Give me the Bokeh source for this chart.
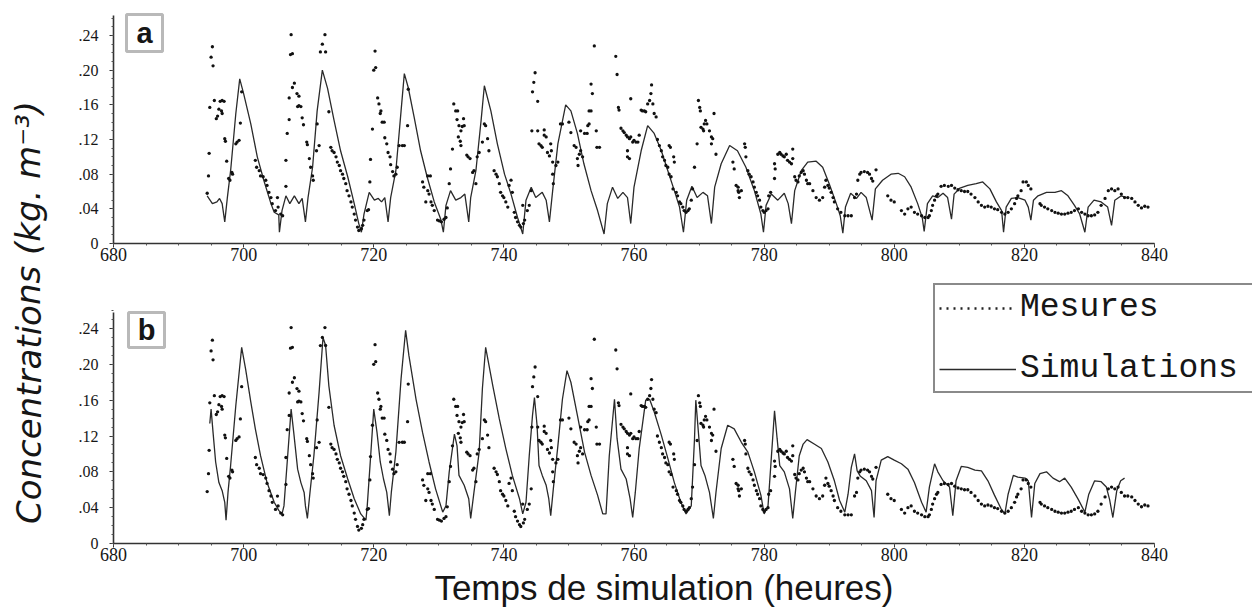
import numpy as np
from bokeh.plotting import figure
from bokeh.models import Range1d, Label, Legend, LegendItem, FixedTicker, CustomJSTickFormatter, BoxAnnotation
from bokeh.layouts import row, column
from bokeh.embed import file_html
from bokeh.resources import INLINE

# ---------------- data ----------------
x_ticks = [680, 700, 720, 740, 760, 780, 800, 820, 840]
y_ticks = [0, 0.04, 0.08, 0.12, 0.16, 0.20, 0.24]
y_tick_labels = ["0", ".04", ".08", ".12", ".16", ".20", ".24"]

# measured concentrations (same in both panels)
mes_h = [695.2, 695.0, 695.3, 694.8, 695.5, 696.0, 695.8, 696.4, 696.7, 697.0, 696.2, 696.6, 696.7, 694.7, 694.6, 694.4,
         697.1, 697.2, 697.4, 697.7, 697.9, 698.2, 698.3, 698.8, 699.0, 699.3, 699.5, 699.7, 701.8, 702.0, 702.4, 702.6,
         703.0, 703.4, 703.6, 703.9, 704.2, 704.4, 704.9, 705.2, 705.3, 705.7, 706.0, 707.3, 707.2, 707.5, 706.7, 707.0,
         706.5, 707.0, 707.5, 707.8, 708.2, 708.5, 708.3, 708.5, 708.8, 709.0, 709.2, 706.5, 709.7, 709.8, 710.1, 710.3,
         710.6, 710.7, 712.5, 712.1, 711.8, 712.6, 711.3, 711.2, 711.6, 713.1, 713.4, 713.6, 713.9, 714.2, 714.4, 714.7,
         714.9, 715.2, 715.4, 715.7, 715.9, 716.2, 716.5, 716.7, 717.0, 717.2, 717.5, 717.7, 718.1, 718.3, 718.5, 719.0,
         719.2, 720.2, 720.0, 720.3, 720.6, 720.8, 721.1, 721.0, 721.3, 721.6, 719.8, 719.5, 719.4, 721.7, 722.0, 722.2,
         722.5, 722.6, 722.9, 723.1, 723.4, 723.6, 723.9, 724.4, 724.7, 725.2, 725.3, 727.5, 727.7, 728.3, 728.5, 728.3,
         728.7, 728.0, 728.8, 729.0, 729.3, 729.8, 730.1, 730.4, 730.8, 731.1, 731.3, 731.6, 731.8, 732.1, 732.3, 732.6,
         732.9, 732.8, 733.1, 733.4, 733.8, 733.6, 733.9, 733.0, 733.3, 733.4, 734.3, 734.5, 734.8, 735.2, 735.4, 735.7,
         735.9, 736.2, 736.7, 737.0, 737.2, 737.5, 737.7,
         738.5, 738.8, 739.0, 739.3, 739.5, 739.8, 740.0, 740.3, 740.6, 740.8, 741.1, 741.3, 741.6, 741.8, 742.1, 742.4,
         742.6, 743.0, 743.2, 743.6, 742.9, 743.9, 744.2, 744.8, 744.6, 744.4, 745.2, 744.3, 745.2, 746.2, 745.4, 745.7,
         745.9, 746.2, 746.5, 746.7, 747.0, 747.2, 747.3, 747.5, 747.5, 747.6, 748.0, 748.3, 748.7, 749.0, 750.0, 750.3,
         750.8, 751.1, 751.3, 751.6, 751.8, 752.4, 752.8, 752.9, 753.1, 753.4, 753.4, 753.6, 753.9, 754.2, 754.3, 754.7,
         753.1, 751.8, 752.1, 751.4, 757.2, 757.4, 759.5, 757.6, 757.7, 758.0, 758.3, 758.5, 758.8, 759.0, 759.3, 759.5,
         759.8, 760.0, 760.3, 760.6, 760.8, 759.0, 759.3, 759.0, 761.1, 761.3, 761.6, 761.8, 762.1, 762.4, 762.6, 762.7,
         762.9, 763.1, 763.4, 763.6, 763.9, 764.2, 764.4, 764.7, 764.9, 765.2, 765.4, 765.7, 765.4, 765.6, 766.1, 766.2,
         766.0, 766.5, 766.7, 767.0, 767.2, 767.5, 767.7, 768.0, 768.3, 768.5, 768.8, 769.0, 769.3, 769.7, 769.9, 770.1,
         770.2, 770.3, 770.6, 770.7, 770.8, 771.0, 771.2, 771.6, 771.9, 772.1, 771.9, 772.3, 772.6, 775.2, 775.4, 775.7,
         776.0, 776.1, 776.2, 776.0, 776.5, 777.0, 777.1, 777.2, 777.5, 777.7, 778.0, 778.3, 778.5, 778.8, 779.0, 779.3,
         779.5, 779.8, 780.0, 780.3, 780.6, 780.7, 781.0, 781.6, 781.7, 781.6, 782.1, 782.4, 782.6, 782.9, 783.1, 783.4,
         783.6, 783.9, 784.2, 784.4, 784.4, 784.7, 784.9, 785.2, 785.4, 785.7, 786.0, 786.2, 786.5, 786.7,
         787.0, 787.5, 788.0, 788.5, 789.0, 789.3, 789.5, 789.8, 790.0, 790.3, 790.6, 790.8, 791.3, 791.8, 792.4, 792.9,
         793.4, 793.9, 794.2, 794.4, 794.7, 794.9, 795.4, 795.9, 796.2, 796.5, 796.7, 797.2, 799.0, 799.5, 800.0, 801.1,
         801.6, 802.1, 802.6, 803.1, 803.6, 804.2, 804.7, 805.2, 805.4, 805.7, 805.9, 806.2, 806.5, 806.7, 807.2, 807.7,
         808.3, 808.8, 809.3, 809.8, 810.3, 810.8, 811.3, 811.8, 812.4, 812.9, 813.4, 813.9, 814.4, 814.9, 815.4, 815.9,
         816.5, 817.0, 817.5, 818.0, 818.5, 818.8, 819.0, 819.5, 819.8, 820.3, 820.6, 821.0, 822.4, 822.6, 823.1, 823.6,
         824.2, 824.7, 825.2, 825.7, 826.2, 826.7, 827.2, 827.7, 828.3, 828.8, 829.3, 829.8, 830.3, 830.8, 831.3, 831.8,
         832.4, 832.9, 833.4, 833.9, 834.4, 834.9, 835.4, 835.9, 836.5, 837.0, 837.5, 838.0, 838.5, 839.0]
mes_c = [.227, .215, .205, .157, .165, .147, .144, .164, .165, .164, .155, .153, .150, .104, .078, .058,
         .121, .118, .095, .075, .073, .082, .080, .115, .117, .119, .139, .175, .096, .088, .084, .078,
         .077, .073, .067, .059, .053, .046, .038, .053, .042, .034, .032, .241, .218, .219, .127, .143,
         .096, .168, .180, .185, .173, .170, .158, .159, .158, .145, .137, .066, .117, .114, .098, .088,
         .078, .073, .241, .230, .221, .221, .138, .107, .113, .152, .111, .107, .105, .100, .094, .090,
         .084, .080, .075, .069, .061, .055, .048, .042, .034, .027, .019, .015, .017, .021, .027, .038,
         .039, .222, .200, .203, .168, .161, .153, .150, .140, .140, .132, .097, .071, .122, .115, .105,
         .100, .091, .083, .078, .080, .088, .113, .113, .113, .136, .178, .071, .065, .061, .057, .078,
         .078, .048, .048, .044, .038, .027, .026, .025, .028, .030, .041, .069, .086, .109, .161, .153,
         .153, .143, .136, .130, .144, .135, .136, .123, .118, .113, .102, .100, .098, .082, .084, .069,
         .100, .105, .117, .138, .136, .121, .107,
         .084, .080, .077, .069, .059, .055, .053, .048, .042, .067, .073, .059, .036, .030, .025, .021,
         .019, .023, .027, .038, .044, .044, .061, .197, .186, .175, .164, .130, .130, .131, .115, .113,
         .111, .125, .123, .105, .101, .115, .107, .094, .080, .069, .090, .094, .138, .138, .140, .128,
         .113, .111, .098, .103, .130, .127, .127, .136, .153, .153, .184, .173, .228, .130, .111, .111,
         .138, .107, .100, .090, .216, .195, .167, .157, .154, .133, .130, .128, .125, .123, .121, .123,
         .117, .119, .117, .117, .125, .107, .098, .100, .154, .153, .153, .152, .161, .165, .173, .183,
         .161, .150, .146, .120, .113, .107, .100, .096, .090, .088, .080, .077, .113, .111, .100, .094,
         .063, .059, .055, .048, .046, .042, .038, .036, .038, .040, .050, .063, .088, .115, .165, .157,
         .153, .134, .132, .130, .138, .142, .138, .130, .123, .121, .115, .150, .103, .094, .086, .067,
         .065, .059, .053, .061, .061, .115, .111, .100, .084, .080, .077, .071, .065, .059, .055, .050,
         .042, .038, .036, .038, .040, .055, .059, .092, .086, .075, .103, .105, .103, .101, .100, .103,
         .096, .094, .092, .098, .109, .077, .073, .071, .078, .082, .084, .080, .073, .069,
         .069, .061, .053, .050, .053, .065, .073, .067, .064, .059, .053, .048, .040, .036, .032, .032,
         .032, .053, .057, .073, .080, .082, .083, .082, .080, .075, .072, .085, .055, .050, .048, .038,
         .034, .040, .042, .036, .034, .032, .030, .030, .032, .038, .044, .050, .055, .057, .066, .067,
         .066, .067, .064, .062, .061, .060, .060, .057, .053, .048, .044, .042, .043, .042, .040, .039,
         .036, .034, .036, .040, .046, .052, .055, .061, .071, .071, .067, .063, .046, .044, .042, .040,
         .038, .036, .035, .034, .034, .035, .036, .038, .040, .036, .034, .032, .032, .033, .036, .044,
         .052, .061, .063, .061, .063, .057, .053, .053, .052, .048, .044, .041, .043, .042]

# simulation, panel a
sim_a_h = [694.4, 695.2, 695.9, 696.3, 696.7, 697.1, 697.5, 698.0, 698.8, 699.4, 700.0, 701.1, 702.1, 703.1, 704.2, 704.7,
           705.4, 705.5, 705.9, 706.5, 707.1, 707.8, 708.5, 709.0, 709.5, 709.9, 710.6, 711.3, 712.1, 712.9, 713.9, 714.9,
           716.0, 717.0, 717.7, 718.1, 718.5, 719.3, 720.1, 720.7, 721.2, 721.7, 722.2, 722.6, 723.4, 724.2, 724.7, 725.3,
           726.2, 727.2, 728.2, 729.3, 730.3, 730.7, 731.1, 731.8, 732.6, 733.4, 734.0, 734.6, 734.9, 735.7, 736.5, 737.0,
           738.0, 739.0, 740.1, 741.1, 742.1, 742.9, 743.4, 744.2, 744.9, 745.9, 746.5, 747.0, 747.5, 748.3, 749.5, 750.3,
           751.3, 752.3, 753.4, 754.4, 755.4, 755.9, 756.7, 757.5, 758.3, 759.0, 759.5, 760.0, 761.1, 762.1, 763.1, 764.2,
           765.2, 766.2, 767.0, 767.6, 768.1, 768.9, 769.7, 770.6, 771.3, 771.9, 772.4, 773.4, 774.7, 775.9, 777.2, 778.5,
           779.5, 779.9, 780.3, 781.1, 782.1, 783.1, 783.7, 784.2, 784.7, 785.7, 786.7, 788.0, 789.0, 790.0, 791.1, 791.7,
           792.1, 792.5, 793.3, 794.2, 794.9, 795.7, 796.6, 797.1, 798.2, 799.5, 800.6, 801.6, 802.6, 803.6, 804.3, 804.6,
           805.1, 805.9, 806.7, 807.5, 808.2, 808.8, 809.2, 810.1, 811.3, 812.6, 813.6, 814.7, 815.7, 816.5, 816.8, 817.2,
           818.0, 819.0, 820.1, 820.6, 821.0, 821.4, 822.1, 823.4, 824.7, 825.7, 826.7, 827.7, 828.5, 829.3, 829.8, 830.7,
           831.8, 832.8, 833.4, 833.9, 834.9, 835.7]
sim_a_c = [.055, .046, .048, .052, .046, .025, .053, .084, .150, .190, .173, .138, .100, .073, .046, .036,
           .033, .013, .038, .055, .046, .055, .046, .052, .025, .053, .088, .153, .200, .179, .142, .107,
           .077, .046, .023, .013, .034, .059, .050, .052, .048, .053, .025, .053, .084, .153, .196, .180,
           .146, .107, .077, .048, .028, .013, .044, .061, .050, .053, .057, .025, .053, .084, .142, .182,
           .153, .115, .080, .057, .030, .011, .050, .065, .053, .059, .050, .025, .061, .115, .160, .153,
           .127, .092, .061, .038, .011, .046, .065, .052, .059, .053, .023, .065, .107, .136, .127, .107,
           .084, .061, .042, .013, .050, .066, .053, .059, .055, .023, .065, .092, .113, .107, .088, .061,
           .034, .013, .044, .057, .050, .058, .046, .023, .061, .084, .094, .095, .088, .069, .046, .032,
           .012, .042, .058, .052, .059, .053, .027, .063, .073, .080, .081, .077, .065, .046, .030, .014,
           .046, .055, .053, .058, .053, .028, .057, .064, .067, .069, .071, .063, .048, .038, .013, .042,
           .052, .053, .050, .042, .027, .050, .055, .059, .059, .061, .055, .044, .034, .013, .042, .050,
           .048, .042, .021, .050, .055, .053]

# simulation, panel b
sim_b_h = [694.8, 695.0, 695.3, 695.7, 696.2, 696.7, 697.1, 697.3, 697.6, 698.0, 698.8, 699.7, 700.3, 701.1, 701.8, 702.6,
           703.6, 704.7, 705.4, 705.9, 706.2, 706.7, 707.3, 707.7, 708.3, 708.8, 709.3, 709.5, 709.8, 710.2, 710.8, 711.6,
           712.2, 712.6, 713.1, 713.9, 714.9, 716.0, 717.0, 718.0, 718.8, 719.0, 719.5, 720.0, 720.5, 721.0, 721.5, 722.0,
           722.4, 722.7, 723.4, 724.2, 724.9, 725.4, 726.5, 727.5, 728.5, 729.5, 730.6, 731.1, 731.6, 732.4, 732.8, 733.1,
           733.9, 734.6, 734.9, 735.4, 736.2, 736.7, 737.2, 738.3, 739.3, 740.3, 741.3, 742.4, 742.9, 743.4, 743.9, 744.4,
           744.7, 745.1, 745.4, 745.9, 746.5, 746.9, 747.2, 747.6, 748.3, 749.0, 749.7, 750.3, 751.3, 752.4, 753.4, 754.4,
           755.2, 755.7, 756.2, 757.0, 757.4, 758.0, 758.8, 759.4, 759.8, 760.2, 760.8, 761.8, 762.4, 763.1, 764.2, 765.2,
           766.2, 767.2, 768.0, 768.8, 769.3, 769.5, 769.9, 770.3, 770.9, 771.6, 772.2, 772.6, 773.4, 774.4, 775.4, 776.5,
           777.5, 778.5, 779.5, 780.0, 780.6, 781.1, 781.6, 782.0, 782.4, 783.1, 783.9, 784.4, 784.8, 785.4, 786.0, 786.6,
           787.7, 788.8, 789.8, 790.8, 791.6, 792.4, 792.9, 793.4, 793.9, 794.3, 794.8, 795.7, 796.5, 796.9, 797.2, 798.0,
           799.0, 800.0, 801.1, 802.1, 803.1, 804.2, 804.9, 805.4, 806.2, 806.7, 807.5, 808.5, 809.0, 809.5, 810.3, 811.3,
           812.4, 813.4, 814.4, 815.4, 816.4, 817.0, 817.5, 818.3, 819.0, 820.1, 820.6, 821.1, 821.6, 822.4, 823.4, 824.4,
           825.4, 826.2, 827.2, 828.3, 829.3, 829.9, 830.8, 831.8, 832.6, 833.1, 833.6, 834.2, 834.8, 835.4]
sim_b_c = [.134, .150, .124, .091, .068, .059, .046, .026, .057, .087, .154, .219, .195, .158, .128, .098,
           .068, .046, .037, .033, .042, .091, .150, .124, .083, .068, .057, .042, .028, .057, .098, .169,
           .230, .221, .176, .132, .098, .072, .050, .033, .026, .042, .095, .150, .124, .091, .072, .057,
           .031, .057, .102, .184, .238, .210, .161, .124, .091, .061, .035, .042, .080, .122, .109, .076,
           .065, .050, .028, .057, .102, .173, .219, .176, .139, .106, .076, .050, .033, .046, .098, .143,
           .163, .132, .087, .076, .065, .050, .031, .061, .109, .161, .193, .180, .143, .102, .076, .054,
           .033, .033, .098, .161, .117, .083, .072, .050, .029, .057, .106, .160, .161, .147, .121, .095,
           .068, .046, .033, .042, .117, .160, .124, .087, .076, .057, .028, .057, .106, .132, .128, .113,
           .102, .080, .054, .033, .042, .095, .148, .117, .087, .080, .061, .028, .057, .098, .111, .116,
           .111, .106, .091, .070, .048, .035, .055, .085, .100, .081, .075, .070, .059, .029, .070, .093,
           .097, .093, .089, .083, .068, .046, .035, .063, .089, .080, .070, .063, .031, .070, .086, .085,
           .082, .081, .070, .054, .039, .033, .055, .076, .074, .073, .070, .029, .067, .078, .080, .073,
           .069, .073, .063, .049, .035, .055, .070, .069, .063, .049, .029, .059, .070, .073]

# ---------------- layout constants (pixels) ----------------
INK = "#161616"
LEFT_W = 58          # width of the strip holding the vertical title
BORDER_L = 55        # room for the y tick labels
FRAME_W = 1139       # frame reaches the right edge; axis stops at 840
RIGHT_W = BORDER_L + FRAME_W
PX_PER_H = 1041 / 160.0
X_END = 680 + FRAME_W / PX_PER_H
A_FRAME, A_BOTTOM = 243, 25
B_FRAME, B_BOTTOM = 275, 25
H_TITLE = 41
TOTAL_H = A_FRAME + A_BOTTOM + B_FRAME + B_BOTTOM + H_TITLE   # 609

y_fmt = CustomJSTickFormatter(args=dict(vals=y_ticks, labs=y_tick_labels), code="""
    let best = 0;
    for (let i = 0; i < vals.length; i++) {
        if (Math.abs(vals[i] - tick) < Math.abs(vals[best] - tick)) best = i;
    }
    return labs[best];
""")


def make_panel(sim_h, sim_c, frame_h, bottom_h, y_per_px, y_axis_top, tag, box):
    y_top = frame_h * y_per_px
    p = figure(width=RIGHT_W, height=frame_h + bottom_h, title=None,
               x_range=Range1d(680, X_END), y_range=Range1d(0, y_top),
               output_backend="svg", toolbar_location=None,
               min_border_left=BORDER_L, min_border_right=0,
               min_border_top=0, min_border_bottom=bottom_h)
    p.outline_line_color = None
    p.grid.visible = False
    p.background_fill_color = "white"
    p.border_fill_color = "white"

    sim = p.line(sim_h, sim_c, line_width=1.3, line_color="#2a2a2a")
    p.scatter(mes_h, mes_c, size=3.3, fill_color="#111111", line_color=None)

    xa = p.xaxis[0]
    xa.bounds = (680, 840)
    xa.ticker = FixedTicker(ticks=x_ticks, minor_ticks=[680 + 5 * i for i in range(33)])
    xa.major_label_text_font = "Liberation Serif"
    xa.major_label_text_font_size = "18px"
    xa.major_label_text_color = INK
    xa.major_label_standoff = 0
    xa.major_tick_in = 0
    xa.major_tick_out = 4
    xa.minor_tick_in = 0
    xa.minor_tick_out = 2
    xa.axis_line_width = 1.6
    xa.axis_line_color = "#333333"
    xa.major_tick_line_color = "#333333"
    xa.minor_tick_line_color = "#555555"

    ya = p.yaxis[0]
    ya.bounds = (0, y_axis_top)
    ya.ticker = FixedTicker(ticks=y_ticks, minor_ticks=[i / 100 for i in range(27)])
    ya.formatter = y_fmt
    ya.major_label_text_font = "Liberation Serif"
    ya.major_label_text_font_size = "16px"
    ya.major_label_text_color = INK
    ya.major_label_standoff = 11
    ya.major_tick_in = 0
    ya.major_tick_out = 4
    ya.minor_tick_in = 0
    ya.minor_tick_out = 2
    ya.axis_line_width = 1.6
    ya.axis_line_color = "#333333"
    ya.major_tick_line_color = "#333333"
    ya.minor_tick_line_color = "#555555"

    left, right, bottom, top = box
    p.add_layout(BoxAnnotation(left=left, right=right, bottom=bottom, top=top,
                               fill_color="white", fill_alpha=1.0,
                               line_color=INK, line_width=3))
    p.add_layout(Label(x=(left + right) / 2, y=(bottom + top) / 2, text=tag,
                       text_align="center", text_baseline="middle",
                       text_font="Liberation Sans", text_font_style="bold", text_font_size="29px",
                       text_color=INK))
    return p, sim


# panel a: frame from page y 0 to 243 ; panel b: frame from 268 to 543
fig_a, _ = make_panel(sim_a_h, sim_a_c, A_FRAME, A_BOTTOM, 0.24 / 208, 0.263, "a",
                      (682.0, 687.53, 0.2215, 0.2642))
fig_b, sim_b = make_panel(sim_b_h, sim_b_c, B_FRAME, B_BOTTOM, 0.24 / 215, 0.258, "b",
                          (682.31, 687.84, 0.2188, 0.2579))

# legend (panel b) -- a dotted sample for the measurements
dots = fig_b.line(np.array([np.nan]), np.array([np.nan]), line_dash="2 5", line_width=2.4,
                  line_color="#222222")
legend = Legend(items=[LegendItem(label="Mesures", renderers=[dots]),
                       LegendItem(label="Simulations", renderers=[sim_b])],
                location=(820, 150), orientation="vertical",
                border_line_color=INK, border_line_width=2, background_fill_color="white",
                background_fill_alpha=1.0, label_text_font="Liberation Mono", label_text_font_size="33px",
                label_text_color=INK, glyph_width=77, glyph_height=32, label_height=32,
                label_width=240, spacing=24, padding=4, label_standoff=4, margin=0)
fig_b.add_layout(legend)

# x axis title strip under panel b
xlab = figure(width=RIGHT_W, height=H_TITLE, title=None,
              x_range=Range1d(0, RIGHT_W), y_range=Range1d(0, H_TITLE),
              output_backend="svg", toolbar_location=None, min_border=0,
              x_axis_location=None, y_axis_location=None)
xlab.outline_line_color = None
xlab.grid.visible = False
xlab.add_layout(Label(x=635 - LEFT_W, y=22, text="Temps de simulation (heures)",
                      text_align="center", text_baseline="middle", text_font="Liberation Sans",
                      text_font_size="35px", text_color=INK))

# y axis title spanning both panels
ylab = figure(width=LEFT_W, height=TOTAL_H, title=None,
              x_range=Range1d(0, LEFT_W), y_range=Range1d(0, TOTAL_H),
              output_backend="svg", toolbar_location=None, min_border=0,
              x_axis_location=None, y_axis_location=None)
ylab.outline_line_color = None
ylab.grid.visible = False
ylab.add_layout(Label(x=28, y=TOTAL_H - 312, text="Concentrations (kg. m⁻³)", angle=1.5708,
                      text_align="center", text_baseline="middle", text_font="DejaVu Sans",
                      text_font_style="italic", text_font_size="34px", text_color=INK))

layout = row(ylab, column(fig_a, fig_b, xlab))
open("out.html", "w").write(file_html(layout, INLINE))
